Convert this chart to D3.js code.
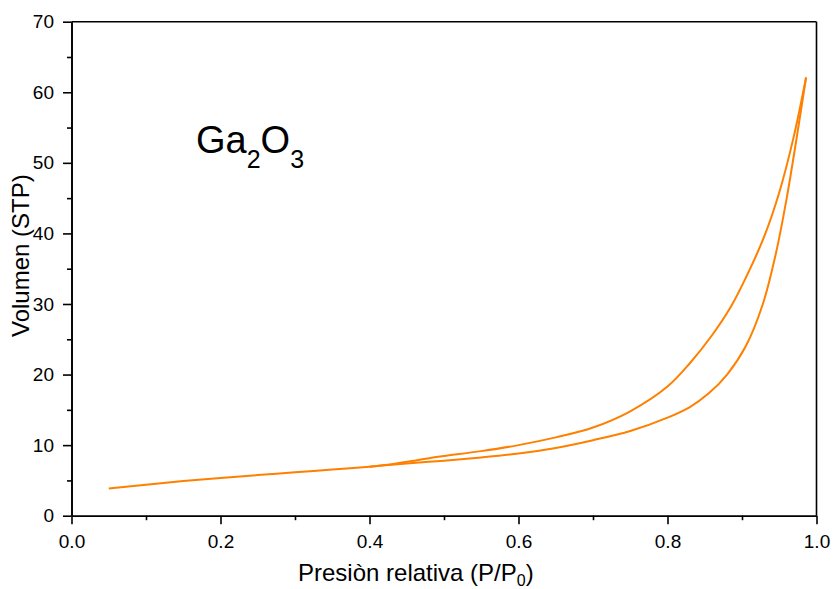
<!DOCTYPE html>
<html>
<head>
<meta charset="utf-8">
<script src="https://cdn.jsdelivr.net/npm/d3@7"></script>
<style>
  html, body { margin: 0; padding: 0; background: #fff; }
  svg { display: block; font-family: "Liberation Sans", Arial, sans-serif; }
</style>
</head>
<body>
<svg id="chart" width="834" height="589"></svg>
<script>
// Nitrogen isotherm of Ga2O3: relative pressure vs adsorbed volume (STP)
const adsorptionP = [0.05, 0.10, 0.15, 0.20, 0.25, 0.30, 0.35, 0.40, 0.45, 0.50, 0.55, 0.60, 0.65, 0.70, 0.75, 0.80, 0.83, 0.855, 0.88, 0.905, 0.928, 0.946, 0.96, 0.973, 0.986];
const adsorptionV = [3.85, 4.4, 4.9, 5.35, 5.75, 6.15, 6.55, 6.95, 7.4, 7.8, 8.25, 8.8, 9.6, 10.7, 12.0, 13.9, 15.4, 17.3, 20.0, 24.0, 30.0, 37.4, 45.0, 53.3, 62.1];

const desorptionP = [0.40, 0.43, 0.46, 0.48, 0.50, 0.55, 0.60, 0.65, 0.70, 0.75, 0.80, 0.83, 0.86, 0.885, 0.91, 0.93, 0.95, 0.969, 0.986];
const desorptionV = [6.95, 7.3, 7.8, 8.15, 8.45, 9.15, 10.0, 11.1, 12.5, 14.8, 18.3, 21.6, 25.6, 29.6, 34.8, 39.6, 45.8, 53.5, 62.1];

const xTicks = [0.0, 0.2, 0.4, 0.6, 0.8, 1.0];
const xMinorTicks = [0.1, 0.3, 0.5, 0.7, 0.9];
const yTicks = [0, 10, 20, 30, 40, 50, 60, 70];
const yMinorTicks = [5, 15, 25, 35, 45, 55, 65];

const svg = d3.select("#chart");
const plotLeft = 71.5, plotRight = 816.5, plotTop = 21.7, plotBottom = 515.7;

const x = d3.scaleLinear().domain([0, 1]).range([plotLeft, plotRight]);
const y = d3.scaleLinear().domain([0, 70]).range([plotBottom, plotTop]);

const axisColor = "#000";
const lineColor = "#ff8000";

// frame: top and right edges
svg.append("line").attr("x1", plotLeft).attr("x2", plotRight).attr("y1", plotTop).attr("y2", plotTop)
  .attr("stroke", axisColor).attr("stroke-width", 1.6);
svg.append("line").attr("x1", plotRight).attr("x2", plotRight).attr("y1", plotTop).attr("y2", plotBottom)
  .attr("stroke", axisColor).attr("stroke-width", 1.6);

function styleAxis(g) {
  g.select(".domain").attr("stroke", axisColor).attr("stroke-width", 1.6);
  g.selectAll(".tick line").attr("stroke", axisColor).attr("stroke-width", 1.6);
  g.selectAll(".tick text").attr("fill", "#000").style("font-size", "19px")
    .style("font-family", '"Liberation Sans", Arial, sans-serif');
}

// minor ticks first, then major axes on top
svg.append("g").attr("transform", `translate(0,${plotBottom})`)
  .call(d3.axisBottom(x).tickValues(xMinorTicks).tickSize(4.5).tickFormat("").tickSizeOuter(0))
  .call(styleAxis);
svg.append("g").attr("transform", `translate(${plotLeft},0)`)
  .call(d3.axisLeft(y).tickValues(yMinorTicks).tickSize(4.5).tickFormat("").tickSizeOuter(0))
  .call(styleAxis);

svg.append("g").attr("transform", `translate(0,${plotBottom})`)
  .call(d3.axisBottom(x).tickValues(xTicks).tickSize(8.5).tickPadding(10.5)
    .tickFormat(d3.format(".1f")).tickSizeOuter(0))
  .call(styleAxis);
svg.append("g").attr("transform", `translate(${plotLeft},0)`)
  .call(d3.axisLeft(y).tickValues(yTicks).tickSize(8.5).tickPadding(9)
    .tickFormat(d3.format("d")).tickSizeOuter(0))
  .call(styleAxis);

// isotherm branches
const line = d3.line().x(d => x(d[0])).y(d => y(d[1])).curve(d3.curveCatmullRom.alpha(0.5));
const ads = adsorptionP.map((p, i) => [p, adsorptionV[i]]);
const des = desorptionP.map((p, i) => [p, desorptionV[i]]);

svg.append("path").datum(ads).attr("d", line)
  .attr("fill", "none").attr("stroke", lineColor).attr("stroke-width", 2);
svg.append("path").datum(des).attr("d", line)
  .attr("fill", "none").attr("stroke", lineColor).attr("stroke-width", 2);

// axis titles
const xt = svg.append("text").attr("x", 298).attr("y", 581)
  .style("font-size", "24px").attr("fill", "#000");
xt.append("tspan").text("Presiòn relativa (P/P");
xt.append("tspan").text("0").style("font-size", "16px").attr("dy", 5);
xt.append("tspan").text(")").attr("dy", -5);

svg.append("text").attr("transform", "translate(29,337) rotate(-90)")
  .style("font-size", "24px").attr("fill", "#000").text("Volumen (STP)");

// sample label
const lab = svg.append("text").attr("x", 196).attr("y", 153)
  .style("font-size", "38px").attr("fill", "#000");
lab.append("tspan").text("Ga");
lab.append("tspan").text("2").style("font-size", "25px").attr("dy", 15);
lab.append("tspan").text("O").attr("dy", -15);
lab.append("tspan").text("3").style("font-size", "25px").attr("dy", 15);
</script>
</body>
</html>
